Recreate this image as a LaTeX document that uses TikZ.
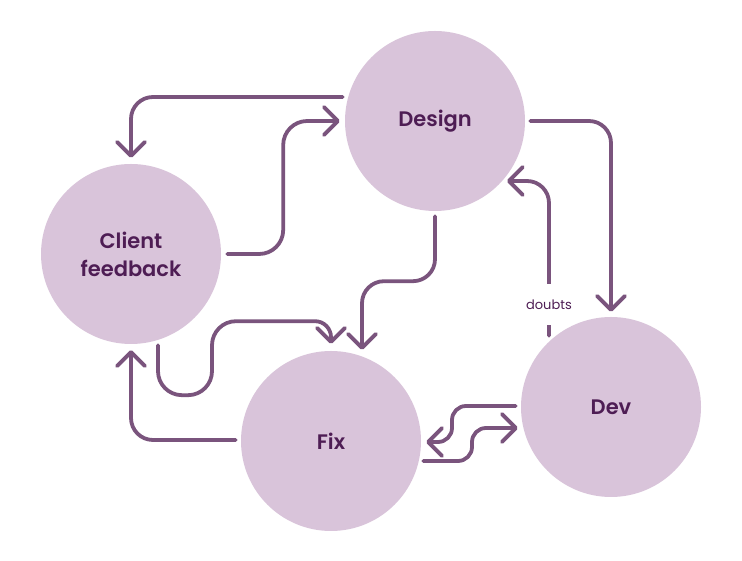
\documentclass[tikz,border=0pt]{standalone}
\usepackage{fontspec}
\setmainfont{Poppins}[BoldFont={Poppins SemiBold}]
\usetikzlibrary{arrows.meta,calc}
\definecolor{linecol}{RGB}{122,84,125}
\definecolor{fillcol}{RGB}{217,196,218}
\definecolor{textcol}{RGB}{78,29,84}
\begin{document}
\begin{tikzpicture}[x=1pt,y=1pt,
  stage/.style={circle, fill=fillcol, minimum size=180pt, inner sep=0pt, text=textcol,
    font=\bfseries\fontsize{21}{28}\selectfont, align=center},
  conn/.style={draw=linecol, line width=3.8pt, line cap=round, line join=round,
    -{Straight Barb[length=14pt,width=28pt,round]}},
  lbl/.style={fill=white, text=textcol, font=\fontsize{13}{15}\selectfont,
    inner xsep=2pt, minimum height=41pt}]
\useasboundingbox (0,0) rectangle (742,561);
\node[stage] (design) at (435,440) {Design};
\node[stage] (client) at (131,307) {Client\\feedback};
\node[stage] (fix) at (331,120) {Fix};
\node[stage] (dev) at (611,154) {Dev};
% Design -> Client feedback
\draw[conn, rounded corners=22pt] ([xshift=-2pt,yshift=24pt]design.west) -| ([yshift=6pt]client.north);
% Client feedback -> Design
\draw[conn, rounded corners=24pt] ([xshift=6pt]client.east) -- ++(56,0) |- ([xshift=-5pt]design.west);
% Design -> Fix
\draw[conn, rounded corners=22pt] ([yshift=-5pt]design.south) -- ++(0,-65) -| ([xshift=31pt,yshift=1pt]fix.north);
% Client feedback -> Fix (U shape)
\draw[conn, rounded corners=24pt] ([xshift=27pt,yshift=-1pt]client.south) -- ++(0,-50) -- ++(54,0) -- ++(0,74) [rounded corners=16pt] -| ([yshift=7pt]fix.north);
% Fix -> Client feedback
\draw[conn, rounded corners=22pt] ([xshift=-5pt,yshift=1pt]fix.west) -| ([yshift=-6pt]client.south);
% Design -> Dev
\draw[conn, rounded corners=22pt] ([xshift=5pt]design.east) -| ([yshift=5pt]dev.north);
% Dev -> Design (doubts)
\draw[conn, rounded corners=22pt] ($(dev.north)+(-62,-19)$) |- ($(design.center)+(72,-60)$);
\node[lbl] (doubts) at (549,256) {doubts};
% Dev -> Fix
\draw[conn, rounded corners=14pt] ([xshift=-5pt,yshift=1pt]dev.west) -- (452,155) -- (452,119) -- ([xshift=5pt,yshift=-1pt]fix.east);
% Fix -> Dev
\draw[conn, rounded corners=14pt] ([xshift=2pt,yshift=-20pt]fix.east) -- (472,100) -- (472,133) -- ([xshift=-3pt,yshift=-21pt]dev.west);
\end{tikzpicture}
\end{document}
